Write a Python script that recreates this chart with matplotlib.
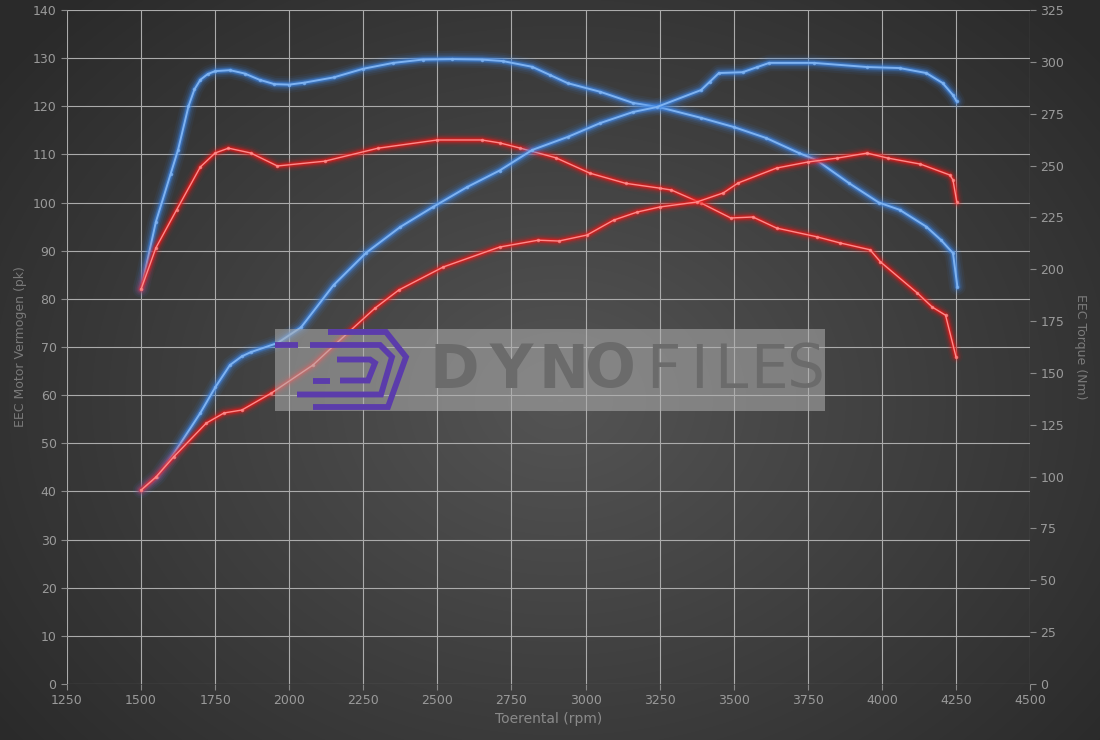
import numpy as np
import matplotlib
matplotlib.use("Agg")
import matplotlib.pyplot as plt
from matplotlib.patches import Rectangle

# data
rpm_pk_blue = [1500, 1550, 1600, 1625, 1660, 1680, 1700, 1725, 1750, 1800, 1850, 1900, 1950,
               2000, 2050, 2150, 2250, 2350, 2450, 2550, 2650, 2720, 2820, 2880, 2940, 3050,
               3160, 3250, 3390, 3500, 3610, 3720, 3780, 3890, 3990, 4060, 4150, 4200, 4240,
               4255]
pk_blue = [82, 96, 106, 111, 120, 123.5, 125.5, 126.7, 127.3, 127.5, 126.8, 125.5, 124.6,
           124.5, 124.9, 126, 127.8, 129, 129.7, 129.8, 129.7, 129.4, 128.2, 126.5, 124.8, 123,
           120.7, 119.8, 117.6, 115.7, 113.4, 110.3, 108.8, 104, 100, 98.5, 95, 92.2, 89.5,
           82.5]

rpm_nm_blue = [1500, 1555, 1610, 1700, 1750, 1800, 1840, 1870, 1960, 2040, 2150, 2260, 2375,
               2485, 2600, 2710, 2820, 2940, 3050, 3160, 3240, 3390, 3420, 3450, 3530, 3580,
               3620, 3770, 3950, 4060, 4150, 4205, 4240, 4252]
nm_blue = [93.5, 100, 111, 130.7, 143, 153.8, 158, 160, 164.4, 172, 192.4, 208, 220.4,
           230, 239.6, 247.6, 257.5, 263.8, 270.5, 275.8, 278.2, 286.4, 290.5, 294.6, 295, 297.5,
           299.5, 299.5, 297.5, 297, 294.6, 289.8, 284, 281]

rpm_pk_red = [1500, 1550, 1620, 1700, 1750, 1795, 1870, 1960, 2120, 2300, 2500, 2650, 2710,
              2780, 2900, 3015, 3135, 3250, 3290, 3390, 3490, 3565, 3645, 3780, 3860, 3960,
              3995, 4120, 4170, 4215, 4250]
pk_red = [82, 90.6, 98.5, 107.4, 110.3, 111.3, 110.3, 107.6, 108.6, 111.3, 113, 113, 112.4,
          111.3, 109.3, 106.1, 104, 103, 102.6, 99.9, 96.8, 97, 94.7, 92.9, 91.6, 90.2,
          87.7, 81.2, 78.3, 76.6, 68]

rpm_nm_red = [1500, 1550, 1610, 1720, 1780, 1840, 1940, 2080, 2160, 2290, 2370, 2520, 2710,
              2840, 2910, 3005, 3095, 3175, 3250, 3375, 3465, 3515, 3645, 3750, 3850, 3950,
              4020, 4130, 4230, 4240, 4253]
nm_red = [93.5, 99.8, 109.5, 125.8, 130.7, 132.1, 140.3, 153.8, 164.4, 181.3, 190, 201.1, 210.7,
          214, 213.6, 216.5, 223.7, 227.6, 230, 232.4, 236.8, 241.6, 248.8, 251.7, 253.6, 256,
          253.6, 250.7, 245.4, 243, 232.4]

W, H = 1100, 740
fig = plt.figure(figsize=(11, 7.4), dpi=100)

# radial gradient background
bg = fig.add_axes([0, 0, 1, 1], zorder=0)
yy, xx = np.mgrid[0:H, 0:W]
r = np.sqrt(((xx - 560) / 700.0) ** 2 + ((yy - 400) / 560.0) ** 2)
r = np.clip(r, 0, 1)
v = 0.33 - 0.165 * r
bg.imshow(np.dstack([v, v, v]), extent=[0, W, H, 0], aspect="auto")
bg.axis("off")

ax = fig.add_axes([67 / W, 1 - 684 / H, 963 / W, 674 / H], zorder=1)
ax.patch.set_visible(False)
ax2 = ax.twinx()

ax.set_xlim(1250, 4500)
ax.set_ylim(0, 140)
ax2.set_ylim(0, 325)
ax.set_xticks(np.arange(1250, 4501, 250))
ax.set_yticks(np.arange(0, 141, 10))
ax2.set_yticks(np.arange(0, 326, 25))
ax.grid(True, color="#ababab", linewidth=0.8)
ax.set_axisbelow(True)

for a in (ax, ax2):
    for s in a.spines.values():
        s.set_visible(False)
    a.tick_params(colors="#8a8a8a", labelcolor="#9a9a9a", labelsize=9, length=4, width=0.8)

ax.set_xlabel("Toerental (rpm)", color="#8a8a8a", fontsize=10, labelpad=3)
ax.set_ylabel("EEC Motor Vermogen (pk)", color="#7a7a7a", fontsize=9, labelpad=4)
ax2.set_ylabel("EEC Torque (Nm)", color="#7a7a7a", fontsize=9, rotation=270, labelpad=16)


def glow(a, x, y, glowc, corec, widths, core_lw):
    for lw, al in widths:
        a.plot(x, y, color=glowc, lw=lw, alpha=al, solid_capstyle="round",
               solid_joinstyle="round")
    a.plot(x, y, color=corec, lw=core_lw, solid_joinstyle="round", solid_capstyle="round")
    a.plot(x, y, ls="none", marker="o", ms=1.5, color=corec, alpha=0.7)


blue_w = [(12, 0.07), (9, 0.11), (6.5, 0.16), (4.5, 0.28), (3.2, 0.45)]
red_w = [(10, 0.06), (7.5, 0.1), (5.5, 0.18), (3.8, 0.3), (2.6, 0.45)]

glow(ax, rpm_pk_blue, pk_blue, "#3d86e6", "#7eb3f2", blue_w, 1.4)
glow(ax2, rpm_nm_blue, nm_blue, "#3d86e6", "#7eb3f2", blue_w, 1.4)
glow(ax, rpm_pk_red, pk_red, "#f01818", "#ff8a8a", red_w, 1.0)
glow(ax2, rpm_nm_red, nm_red, "#f01818", "#ff8a8a", red_w, 1.0)

# watermark overlay in pixel coordinates
ov = fig.add_axes([0, 0, 1, 1], zorder=5)
ov.set_xlim(0, W)
ov.set_ylim(H, 0)
ov.axis("off")
ov.patch.set_visible(False)
ov.add_patch(Rectangle((275, 329), 550, 82, facecolor="#b0b0b0", alpha=0.55, edgecolor="none"))

purple = "#5b3cab"
logo_lines = [
    [(328, 332), (386, 332), (406, 357), (388, 407), (313, 407)],
    [(310, 345), (380, 345), (392, 357), (381, 394.5), (297, 394.5)],
    [(337, 359.5), (370, 359.5), (375, 363), (368, 380.5), (340, 380.5)],
    [(275, 345), (298, 345)],
    [(313, 380.5), (330, 380.5)],
]
for pts in logo_lines:
    px, py = zip(*pts)
    ov.plot(px, py, color=purple, lw=4.2, solid_joinstyle="miter", solid_capstyle="butt")

letters = ["D", "Y", "N", "O", "F", "I", "L", "E", "S"]
centers = [454, 511, 563, 610, 663, 699, 731, 769, 806]
for ch, cx in zip(letters, centers):
    bold = ch in "DYNO"
    ov.text(cx, 371, ch, fontsize=43, fontweight="bold" if bold else "normal",
            color="#6b6b6b", va="center", ha="center", family="DejaVu Sans")

fig.savefig("out.png", dpi=100)
